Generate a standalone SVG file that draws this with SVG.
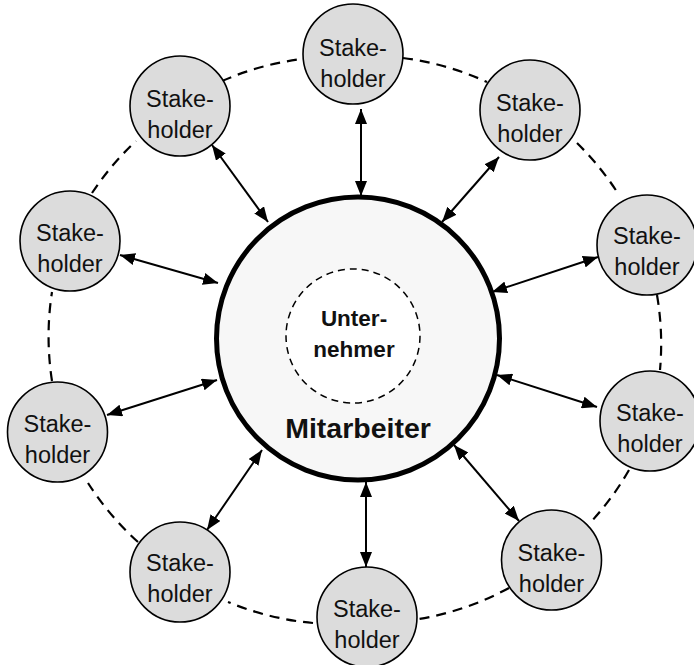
<svg xmlns="http://www.w3.org/2000/svg" width="694" height="665" viewBox="0 0 694 665">
<defs>
<style>
.ring{fill:none;stroke:#000;stroke-width:2.2;stroke-dasharray:10 7}
.arr{stroke:#000;stroke-width:2;fill:none;marker-start:url(#ah);marker-end:url(#ah)}
.sh{fill:#dcdcdc;stroke:#000;stroke-width:1.6}
.st{font-family:"Liberation Sans",Arial,sans-serif;font-size:23.5px;text-anchor:middle;fill:#111}
.bt{font-family:"Liberation Sans",Arial,sans-serif;font-weight:bold;text-anchor:middle;fill:#111}
</style>
<marker id="ah" viewBox="0 0 15 12" refX="15" refY="6" markerWidth="15" markerHeight="12" markerUnits="userSpaceOnUse" orient="auto-start-reverse">
<path d="M0,0 L15,6 L0,12 z" fill="#000"/>
</marker>
</defs>
<rect width="694" height="665" fill="#fff"/>
<g id="connectors">
<path class="ring" d="M222,81 A290 290 0 0 1 302,59"/>
<path class="ring" d="M403,58 A290 290 0 0 1 487,82"/>
<path class="ring" d="M577,143 A290 290 0 0 1 619,195"/>
<path class="ring" d="M657,295 A290 290 0 0 1 660,370"/>
<path class="ring" d="M629,470 A290 290 0 0 1 590,523"/>
<path class="ring" d="M509,588 A290 290 0 0 1 419,619"/>
<path class="ring" d="M313,623 A290 290 0 0 1 228,602"/>
<path class="ring" d="M138,542 A290 290 0 0 1 88,483"/>
<path class="ring" d="M52,381 A290 290 0 0 1 52,292"/>
<path class="ring" d="M92,193 A290 290 0 0 1 136,141"/>
<line class="arr" x1="361" y1="109" x2="361" y2="196"/>
<line class="arr" x1="499" y1="157" x2="442" y2="222"/>
<line class="arr" x1="598" y1="257" x2="492" y2="292"/>
<line class="arr" x1="497" y1="375" x2="597" y2="407"/>
<line class="arr" x1="454" y1="445" x2="519" y2="521"/>
<line class="arr" x1="366" y1="482" x2="366" y2="567"/>
<line class="arr" x1="262" y1="450" x2="207" y2="530"/>
<line class="arr" x1="217" y1="380" x2="107" y2="415"/>
<line class="arr" x1="120" y1="255" x2="218" y2="283"/>
<line class="arr" x1="212" y1="145" x2="268" y2="222"/>
</g>
<g id="center">
<circle cx="358" cy="338.5" r="141.5" fill="#f7f7f7" stroke="#000" stroke-width="5"/>
<text class="bt" x="358" y="438" font-size="28.5">Mitarbeiter</text>
</g>
<g id="unternehmer">
<circle cx="353" cy="336" r="67" fill="#fff" stroke="#000" stroke-width="1.5" stroke-dasharray="7 5"/>
<text class="bt" x="354" y="326" font-size="22.5">Unter-</text>
<text class="bt" x="354" y="357" font-size="22.5">nehmer</text>
</g>
<g id="s1"><circle class="sh" cx="353" cy="54" r="50"/><text class="st" x="353" y="56">Stake-</text><text class="st" x="353" y="87">holder</text></g>
<g id="s2"><circle class="sh" cx="530" cy="110" r="50"/><text class="st" x="530" y="111">Stake-</text><text class="st" x="530" y="142">holder</text></g>
<g id="s3"><circle class="sh" cx="647" cy="245" r="50"/><text class="st" x="647" y="244">Stake-</text><text class="st" x="647" y="275">holder</text></g>
<g id="s4"><circle class="sh" cx="650" cy="421" r="50"/><text class="st" x="650" y="421">Stake-</text><text class="st" x="650" y="452">holder</text></g>
<g id="s5"><circle class="sh" cx="551.5" cy="560" r="50"/><text class="st" x="551.5" y="561">Stake-</text><text class="st" x="551.5" y="592">holder</text></g>
<g id="s6"><circle class="sh" cx="367" cy="617" r="50"/><text class="st" x="367" y="617">Stake-</text><text class="st" x="367" y="648">holder</text></g>
<g id="s7"><circle class="sh" cx="180" cy="572" r="50"/><text class="st" x="180" y="571">Stake-</text><text class="st" x="180" y="602">holder</text></g>
<g id="s8"><circle class="sh" cx="57.5" cy="432" r="50"/><text class="st" x="57.5" y="432">Stake-</text><text class="st" x="57.5" y="463">holder</text></g>
<g id="s9"><circle class="sh" cx="70" cy="241" r="50"/><text class="st" x="70" y="241">Stake-</text><text class="st" x="70" y="272">holder</text></g>
<g id="s10"><circle class="sh" cx="180" cy="106" r="50"/><text class="st" x="180" y="107">Stake-</text><text class="st" x="180" y="138">holder</text></g>
</svg>
